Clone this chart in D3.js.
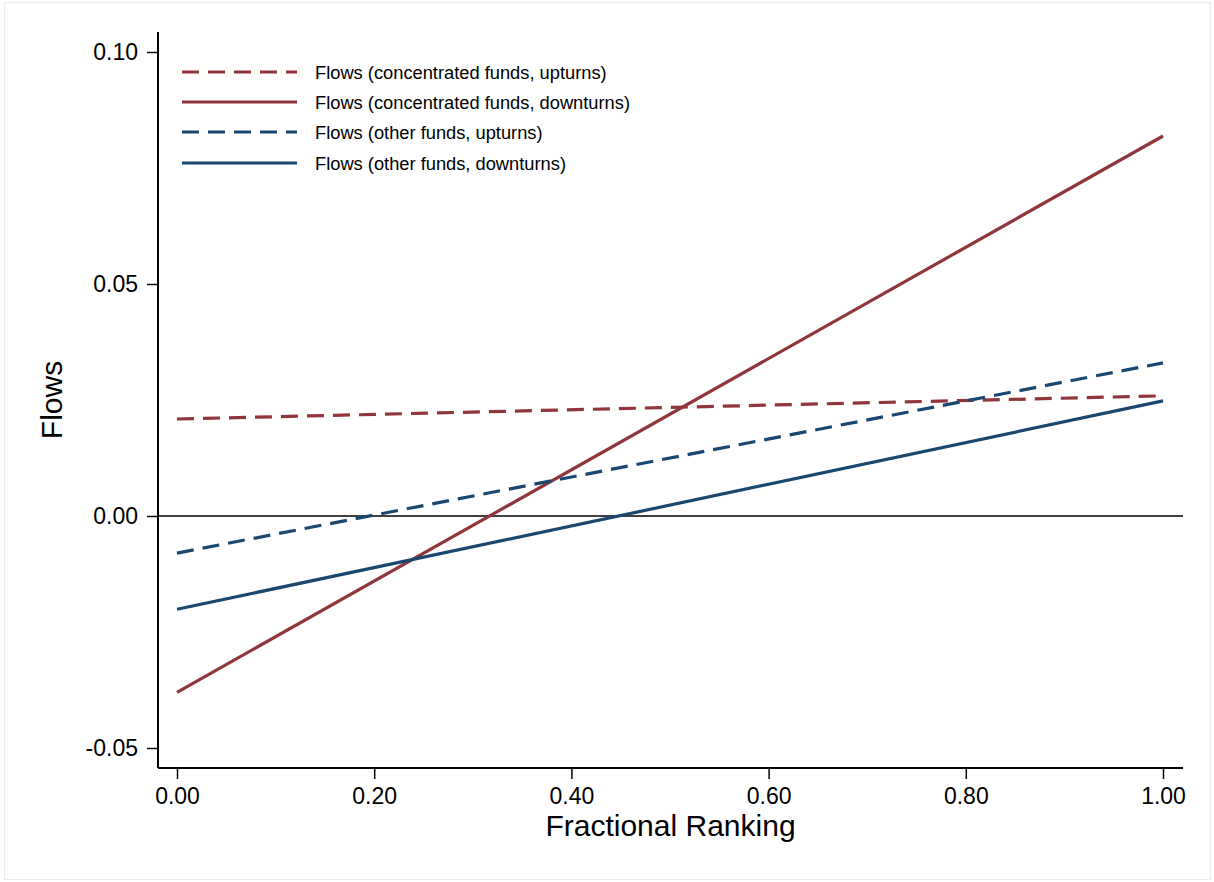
<!DOCTYPE html>
<html>
<head>
<meta charset="utf-8">
<script src="https://cdn.jsdelivr.net/npm/d3@7"></script>
<style>
  body { margin: 0; background: #fff; }
  text { font-family: "Liberation Sans", Arial, sans-serif; fill: #000; }
</style>
</head>
<body>
<div id="chart"></div>
<script>
// Data (linear fits, end points only)
const ranks = [0, 1];
const concUp = [0.0209, 0.0259];
const concDown = [-0.0380, 0.0819];
const otherUp = [-0.0080, 0.0330];
const otherDown = [-0.0201, 0.0248];

const yTicks = [-0.05, 0, 0.05, 0.10];
const xTicks = [0, 0.2, 0.4, 0.6, 0.8, 1.0];

const seriesNames = [
  'Flows (concentrated funds, upturns)',
  'Flows (concentrated funds, downturns)',
  'Flows (other funds, upturns)',
  'Flows (other funds, downturns)',
];

const red = '#90353b';
const blue = '#1a476f';

const series = [
  { name: seriesNames[0], values: concUp, color: red, dash: '17,9' },
  { name: seriesNames[1], values: concDown, color: red, dash: null },
  { name: seriesNames[2], values: otherUp, color: blue, dash: '17,9' },
  { name: seriesNames[3], values: otherDown, color: blue, dash: null },
];

const width = 1214;
const height = 882;

// plot frame (axis lines)
const axLeft = 158;
const axRight = 1183;
const axTop = 32;
const axBottom = 768;

// plain hyphen for negatives, like the original
const fmt = (d) => d3.format('.2f')(d).replace('\u2212', '-');

const svg = d3
  .select('#chart')
  .append('svg')
  .attr('width', width)
  .attr('height', height);

// outer frame
svg
  .append('rect')
  .attr('x', 4.5)
  .attr('y', 2.5)
  .attr('width', 1206)
  .attr('height', 877)
  .attr('fill', '#fff')
  .attr('stroke', '#e6eef0')
  .attr('stroke-width', 1);

const x = d3.scaleLinear().domain([0, 1]).range([177, 1163]);
const y = d3.scaleLinear().domain([-0.05, 0.1]).range([748, 52]);

// y axis
const yAxis = d3
  .axisLeft(y)
  .tickValues(yTicks)
  .tickSize(11)
  .tickPadding(9)
  .tickFormat(fmt);

const gy = svg
  .append('g')
  .attr('transform', 'translate(' + axLeft + ',0)')
  .call(yAxis);
gy.select('.domain').remove();
gy.selectAll('line').attr('stroke', '#000').attr('stroke-width', 1.5);
gy.selectAll('text')
  .style('font-size', '23px')
  .style('font-family', '"Liberation Sans", Arial, sans-serif');

svg
  .append('line')
  .attr('x1', axLeft)
  .attr('x2', axLeft)
  .attr('y1', axTop)
  .attr('y2', axBottom)
  .attr('stroke', '#000')
  .attr('stroke-width', 2);

// x axis
const xAxis = d3
  .axisBottom(x)
  .tickValues(xTicks)
  .tickSize(11)
  .tickPadding(9)
  .tickFormat(fmt);

const gx = svg
  .append('g')
  .attr('transform', 'translate(0,' + axBottom + ')')
  .call(xAxis);
gx.select('.domain').remove();
gx.selectAll('line').attr('stroke', '#000').attr('stroke-width', 1.5);
gx.selectAll('text')
  .style('font-size', '23px')
  .style('font-family', '"Liberation Sans", Arial, sans-serif');

svg
  .append('line')
  .attr('x1', axLeft)
  .attr('x2', axRight)
  .attr('y1', axBottom)
  .attr('y2', axBottom)
  .attr('stroke', '#000')
  .attr('stroke-width', 2);

// zero line
svg
  .append('line')
  .attr('x1', axLeft)
  .attr('x2', axRight)
  .attr('y1', y(0))
  .attr('y2', y(0))
  .attr('stroke', '#000')
  .attr('stroke-width', 1.5);

// axis titles
svg
  .append('text')
  .attr('x', (axLeft + axRight) / 2)
  .attr('y', 836)
  .attr('text-anchor', 'middle')
  .style('font-size', '30px')
  .text('Fractional Ranking');

svg
  .append('text')
  .attr('transform', 'translate(62,400) rotate(-90)')
  .attr('text-anchor', 'middle')
  .style('font-size', '30px')
  .text('Flows');

// lines
const line = d3
  .line()
  .x((d, i) => x(ranks[i]))
  .y((d) => y(d));

svg
  .selectAll('.fit')
  .data(series)
  .enter()
  .append('path')
  .attr('class', 'fit')
  .attr('d', (d) => line(d.values))
  .attr('fill', 'none')
  .attr('stroke', (d) => d.color)
  .attr('stroke-width', 3.2)
  .attr('stroke-dasharray', (d) => d.dash);

// legend
const legend = svg.append('g').attr('class', 'legend');
const rowY = [72, 102, 132, 163];

legend
  .selectAll('.legendLine')
  .data(series)
  .enter()
  .append('line')
  .attr('x1', 182)
  .attr('x2', 297)
  .attr('y1', (d, i) => rowY[i])
  .attr('y2', (d, i) => rowY[i])
  .attr('stroke', (d) => d.color)
  .attr('stroke-width', 3.2)
  .attr('stroke-dasharray', (d) => d.dash);

legend
  .selectAll('.legendText')
  .data(series)
  .enter()
  .append('text')
  .attr('x', 315)
  .attr('y', (d, i) => rowY[i] + 6.5)
  .style('font-size', '18.3px')
  .text((d) => d.name);
</script>
</body>
</html>
